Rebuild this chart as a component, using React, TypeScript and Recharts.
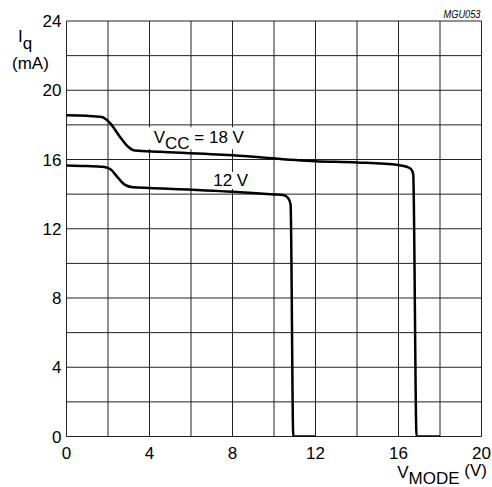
import { ComposedChart, Line, XAxis, YAxis, CartesianGrid, ReferenceDot, Label } from 'recharts'

const FONT = 'Arial, "Liberation Sans", Helvetica, sans-serif'

// axis ticks (labelled) and grid lines (every 2 units)
const xTicks = [0, 4, 8, 12, 16, 20]
const yTicks = [0, 4, 8, 12, 16, 20, 24]
const xGrid = [0, 2, 4, 6, 8, 10, 12, 14, 16, 18, 20]
const yGrid = [0, 2, 4, 6, 8, 10, 12, 14, 16, 18, 20, 22, 24]

// V_CC = 18 V curve
const vMode18 = [0, 1.0, 1.7, 2.1, 2.57, 2.97, 3.3, 4.5, 8, 12, 14, 16, 16.4, 16.6, 16.71, 16.87, 18]
const iq18 = [18.55, 18.52, 18.45, 18.1, 17.32, 16.74, 16.52, 16.45, 16.24, 15.9, 15.83, 15.68, 15.58, 15.45, 15.15, 0, 0]

// V_CC = 12 V curve
const vMode12 = [0, 1.0, 1.75, 2.1, 2.5, 2.8, 3.2, 4, 8, 10, 10.44, 10.68, 10.8, 10.93, 12]
const iq12 = [15.65, 15.62, 15.58, 15.45, 14.92, 14.55, 14.4, 14.36, 14.14, 13.98, 13.95, 13.78, 13.4, 0, 0]

const toPoints = (xs: number[], ys: number[]) => xs.map((x, k) => ({ vMode: x, iq: ys[k] }))

const data18 = toPoints(vMode18, iq18)
const data12 = toPoints(vMode12, iq12)

function VccLabel(props: any) {
  const vb = props.viewBox ?? props
  const x = vb.x
  const y = vb.y
  return (
    <g>
      <rect x={x - 6} y={y - 16} width={104} height={22} fill="#fff" />
      <text x={x} y={y} fontSize={17} fontFamily={FONT} fill="#000">
        V<tspan dy={6}>CC</tspan>
        <tspan dy={-6}>{' = 18 V'}</tspan>
      </text>
    </g>
  )
}

function V12Label(props: any) {
  const vb = props.viewBox ?? props
  const x = vb.x
  const y = vb.y
  return (
    <g>
      <rect x={x - 3} y={y - 14} width={42} height={17} fill="#fff" />
      <text x={x} y={y} fontSize={17} fontFamily={FONT} fill="#000">
        12 V
      </text>
    </g>
  )
}

function XTitle(props: any) {
  const vb = props.viewBox
  const right = vb.x + vb.width
  return (
    <g>
      <text x={right + 5.5} y={vb.y + vb.height - 9} textAnchor="end" fontSize={17} fontFamily={FONT} fill="#000">
        V<tspan dy={6}>MODE</tspan>
        <tspan dy={-8}>{' (V)'}</tspan>
      </text>
      <text
        x={right - 1}
        y={18}
        textAnchor="end"
        fontSize={11}
        fontStyle="italic"
        fontFamily={FONT}
        fill="#000"
        textLength={37}
        lengthAdjust="spacingAndGlyphs"
      >
        MGU053
      </text>
    </g>
  )
}

function YTitle() {
  return (
    <g>
      <text x={18} y={42} fontSize={17} fontFamily={FONT} fill="#000">
        I<tspan dy={7}>q</tspan>
      </text>
      <text x={12} y={69} fontSize={17} fontFamily={FONT} fill="#000">
        (mA)
      </text>
    </g>
  )
}

export default function App() {
  return (
    <div style={{ position: 'absolute', left: 0, top: 0, background: '#fff' }}>
      <ComposedChart width={492} height={487} margin={{ top: 21, right: 10.5, bottom: 0, left: 0 }}>
        <CartesianGrid
          horizontalValues={yGrid}
          verticalValues={xGrid}
          stroke="#222"
          strokeWidth={1}
        />
        <XAxis
          dataKey="vMode"
          type="number"
          domain={[0, 20]}
          ticks={xTicks}
          allowDataOverflow
          axisLine={false}
          tickLine={false}
          tickSize={8}
          tickMargin={2}
          height={50.5}
          tick={{ fontSize: 17, fontFamily: FONT, fill: '#000' }}
        >
          <Label content={XTitle} />
        </XAxis>
        <YAxis
          dataKey="iq"
          type="number"
          domain={[0, 24]}
          ticks={yTicks}
          allowDataOverflow
          axisLine={false}
          tickLine={false}
          tickSize={3}
          tickMargin={2}
          width={66.5}
          tick={{ fontSize: 17, fontFamily: FONT, fill: '#000' }}
        >
          <Label content={YTitle} />
        </YAxis>
        <ReferenceDot x={4.2} y={16.94} r={0} fill="none" stroke="none" label={VccLabel} />
        <ReferenceDot x={7.07} y={14.47} r={0} fill="none" stroke="none" label={V12Label} />
        <Line
          data={data18}
          dataKey="iq"
          type="monotone"
          stroke="#000"
          strokeWidth={2.5}
          dot={false}
          activeDot={false}
          isAnimationActive={false}
        />
        <Line
          data={data12}
          dataKey="iq"
          type="monotone"
          stroke="#000"
          strokeWidth={2.5}
          dot={false}
          activeDot={false}
          isAnimationActive={false}
        />
      </ComposedChart>
    </div>
  )
}
